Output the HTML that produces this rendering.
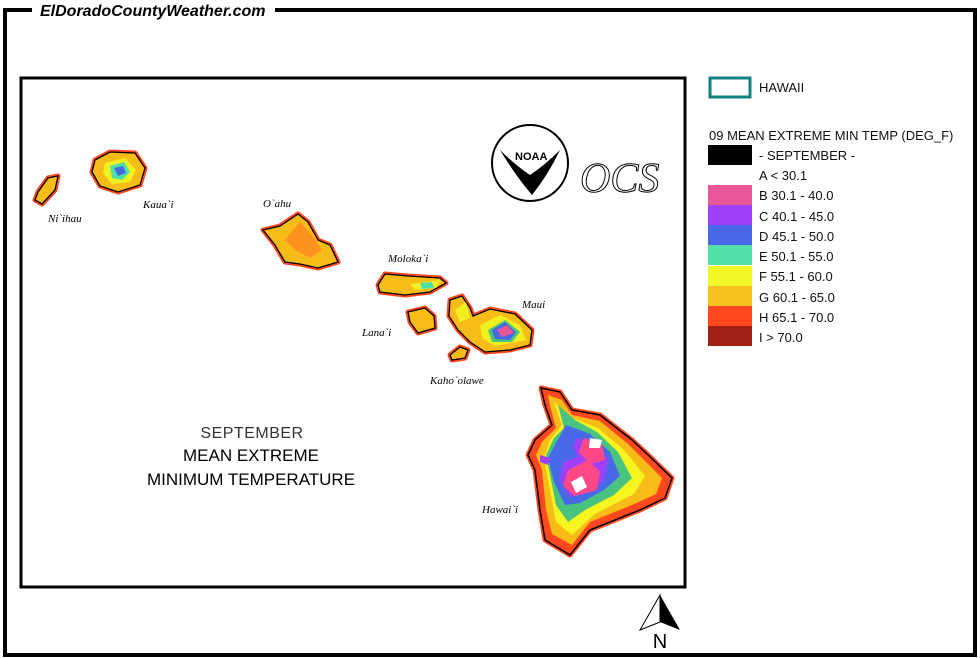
<!DOCTYPE html>
<html><head><meta charset="utf-8"><style>
body{margin:0;background:#fff;width:980px;height:658px;overflow:hidden;position:relative;font-family:"Liberation Sans",sans-serif}
.lg{position:absolute;left:759px;font-size:13px;color:#111}
.sw{position:absolute;left:708px;width:44px;height:20px}
</style></head><body>
<svg width="980" height="658" style="position:absolute;left:0;top:0">
<defs>
<path id="kau" d="M95 160 L110 152 L135 153 L145 168 L140 185 L118 192 L100 186 L92 172Z"/>
<path id="nii" d="M38 192 L48 178 L58 176 L55 190 L42 204 L35 200Z"/>
<path id="oah" d="M263 230 L280 226 L298 214 L308 222 L318 240 L330 245 L338 262 L318 268 L300 264 L285 262 L275 245Z"/>
<path id="mol" d="M378 285 L385 274 L408 276 L440 278 L446 283 L430 292 L405 295 L380 292Z"/>
<path id="lan" d="M408 312 L425 308 L434 316 L435 328 L418 333 L410 322Z"/>
<path id="mau" d="M450 300 L462 296 L470 308 L473 316 L490 309 L515 314 L532 330 L530 345 L510 350 L485 352 L470 342 L458 330 L449 316Z"/>
<path id="kah" d="M450 355 L460 347 L468 350 L465 358 L452 360Z"/>
<path id="big" d="M541 388 L560 392 L572 410 L600 415 L632 440 L645 452 L672 478 L665 498 L640 510 L590 530 L570 555 L545 540 L540 510 L535 470 L528 455 L535 440 L552 425 L545 405Z"/>
</defs>
<path d="M32 10 H5 V655 H975 V10 H275" fill="none" stroke="#000" stroke-width="4"/>
<rect x="21" y="78" width="664" height="509" fill="none" stroke="#000" stroke-width="3"/>
<text x="40" y="16" font-size="16" font-style="italic" font-weight="bold" font-family="Liberation Sans">ElDoradoCountyWeather.com</text>
<g fill="#ff4820" stroke="#ff4820" stroke-width="5" stroke-linejoin="round">
<use href="#kau"/><use href="#nii"/><use href="#oah"/><use href="#mol"/><use href="#lan"/><use href="#mau"/><use href="#kah"/><use href="#big"/>
</g>
<g fill="#f8bc18" stroke="#000" stroke-width="1.3">
<use href="#kau"/><use href="#nii"/><use href="#oah"/><use href="#mol"/><use href="#lan"/><use href="#mau"/><use href="#kah"/>
</g>
<g stroke="none">
<path d="M300 222 L312 235 L322 250 L310 258 L295 250 L285 240Z" fill="#ff6a20" opacity="0.5"/>
<path d="M105 163 L125 158 L136 170 L130 182 L112 184 L103 173Z" fill="#f0f020"/>
<path d="M110 166 L124 162 L130 172 L122 180 L112 178Z" fill="#4fe0a8"/>
<path d="M114 168 L123 166 L126 173 L118 176Z" fill="#4868e0"/>
<path d="M410 284 L440 280 L436 288 L415 290Z" fill="#f0f020"/>
<path d="M420 283 L432 282 L434 288 L422 289Z" fill="#4fe0a8"/>
<path d="M455 310 L466 302 L470 318 L460 322Z" fill="#f0f020"/>
<path d="M480 325 L500 315 L520 325 L526 340 L495 346 L482 338Z" fill="#f0f020"/>
<path d="M488 330 L505 320 L520 332 L512 342 L492 342Z" fill="#48c480"/>
<path d="M492 330 L505 322 L516 332 L510 340 L495 339Z" fill="#4868e0"/>
<path d="M497 330 L507 325 L514 333 L502 337Z" fill="#e85598"/>
</g>
<g>
<path d="M548 395 L562 400 L572 415 L600 421 L628 444 L640 456 L662 478 L656 494 L632 505 L590 522 L572 545 L552 534 L546 510 L542 470 L536 455 L542 442 L556 428 L550 406Z" fill="#f8bc18"/>
<path d="M554 402 L570 417 L598 428 L624 450 L645 476 L634 494 L595 514 L572 535 L556 522 L550 490 L544 458 L550 440 L562 425Z" fill="#f6f520"/>
<path d="M558 405 L575 420 L597 432 L618 452 L632 478 L614 495 L585 510 L568 522 L556 505 L550 475 L546 455 L554 438 L564 428Z" fill="#48c480"/>
<path d="M566 425 L590 434 L610 452 L620 476 L604 490 L580 503 L565 505 L554 482 L548 458 L556 443Z" fill="#4868e8"/>
<path d="M576 438 L597 443 L608 460 L604 480 L592 492 L570 497 L560 480 L563 462 L578 457 L573 447Z" fill="#a040f8"/>
<path d="M584 438 L602 444 L605 460 L590 464 L579 452Z" fill="#ff4888"/>
<path d="M568 470 L588 460 L600 472 L597 490 L575 496 L563 486Z" fill="#ff4888"/>
<path d="M590 438 L602 440 L600 448 L589 448Z" fill="#fff"/>
<path d="M571 482 L582 476 L587 487 L576 493Z" fill="#fff"/>
<path d="M540 455 L550 458 L548 465 L540 462Z" fill="#a040f8"/>
</g>
<use href="#big" fill="none" stroke="#000" stroke-width="1.5"/>
<circle cx="530" cy="163" r="38" fill="#fff" stroke="#000" stroke-width="2"/>
<path d="M500 150 Q515 165 530 175 Q545 165 560 150 Q548 175 532 195 Q515 175 500 150Z" fill="#000"/>
<text x="515" y="160" font-size="11" font-weight="bold" font-family="Liberation Sans">NOAA</text>
<text x="580" y="192" font-size="42" font-style="italic" fill="#fff" stroke="#000" stroke-width="1" font-family="Liberation Serif">OCS</text>
<g font-family="Liberation Serif" font-style="italic" font-size="11">
<text x="48" y="222">Ni`ihau</text><text x="143" y="208">Kaua`i</text><text x="263" y="207">O`ahu</text>
<text x="388" y="262">Moloka`i</text><text x="522" y="308">Maui</text><text x="362" y="336">Lana`i</text>
<text x="430" y="384">Kaho`olawe</text><text x="482" y="513">Hawai`i</text></g>
<g font-family="Liberation Sans" text-anchor="middle">
<text x="252" y="438" font-size="16" letter-spacing="0.5" fill="#333">SEPTEMBER</text>
<text x="251" y="461" font-size="17">MEAN EXTREME</text>
<text x="251" y="485" font-size="17">MINIMUM TEMPERATURE</text></g>
<path d="M660 595 L640 630 L660 622Z" fill="#fff" stroke="#000"/><path d="M660 595 L680 630 L660 622Z" fill="#000"/>
<text x="660" y="648" font-size="20" text-anchor="middle" font-family="Liberation Sans">N</text>
<rect x="710" y="78" width="40" height="19" fill="none" stroke="#108080" stroke-width="3"/>
</svg>
<div class="lg" style="top:80px">HAWAII</div>
<div class="lg" style="left:709px;top:128px">09 MEAN EXTREME MIN TEMP (DEG_F)</div>
<div class="sw" style="top:145px;background:#000"></div><div class="lg" style="top:148px">- SEPTEMBER -</div>
<div class="lg" style="top:168px">A &lt; 30.1</div>
<div class="sw" style="top:185px;background:#e85898"></div><div class="lg" style="top:188px">B 30.1 - 40.0</div>
<div class="sw" style="top:205px;background:#a040f8"></div><div class="lg" style="top:209px">C 40.1 - 45.0</div>
<div class="sw" style="top:225px;background:#4868e8"></div><div class="lg" style="top:229px">D 45.1 - 50.0</div>
<div class="sw" style="top:245px;background:#50e0a8"></div><div class="lg" style="top:249px">E 50.1 - 55.0</div>
<div class="sw" style="top:266px;background:#f0f828"></div><div class="lg" style="top:269px">F 55.1 - 60.0</div>
<div class="sw" style="top:286px;background:#f8c020"></div><div class="lg" style="top:290px">G 60.1 - 65.0</div>
<div class="sw" style="top:306px;background:#ff4820"></div><div class="lg" style="top:310px">H 65.1 - 70.0</div>
<div class="sw" style="top:326px;background:#a02018"></div><div class="lg" style="top:330px">I &gt; 70.0</div>
</body></html>
